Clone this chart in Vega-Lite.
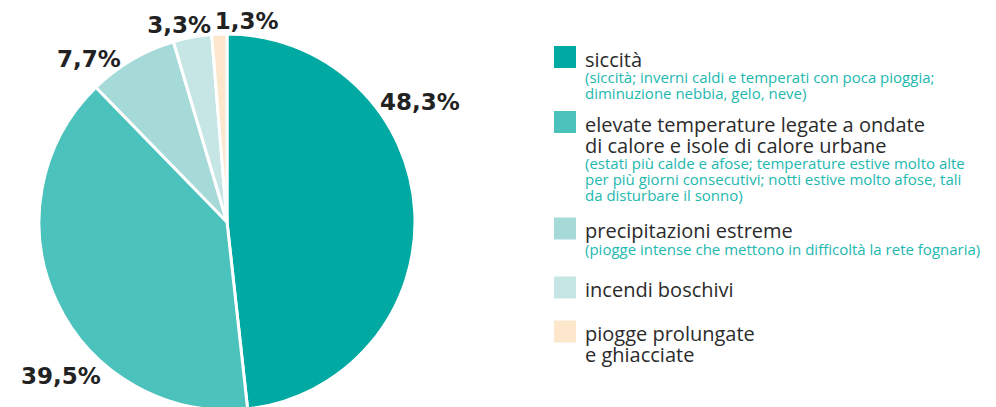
{
  "$schema": "https://vega.github.io/schema/vega-lite/v6.json",
  "padding": 0,
  "spacing": 0,
  "bounds": "flush",
  "background": "white",
  "config": {"view": {"stroke": null}, "concat": {"spacing": 0}},
  "datasets": {
    "slices": [
      {"cat": "siccità", "ord": 1, "value": 48.3, "label": "48,3%"},
      {"cat": "elevate temperature", "ord": 2, "value": 39.5, "label": "39,5%"},
      {"cat": "precipitazioni estreme", "ord": 3, "value": 7.7, "label": "7,7%"},
      {"cat": "incendi boschivi", "ord": 4, "value": 3.3, "label": "3,3%"},
      {"cat": "piogge prolungate", "ord": 5, "value": 1.3, "label": "1,3%"}
    ],
    "legend": [
      {"cat": "siccità", "ord": 1, "title": "siccità", "sub": "(siccità; inverni caldi e temperati con poca pioggia;\ndiminuzione nebbia, gelo, neve)"},
      {"cat": "elevate temperature", "ord": 2, "title": "elevate temperature legate a ondate\ndi calore e isole di calore urbane", "sub": "(estati più calde e afose; temperature estive molto alte\nper più giorni consecutivi; notti estive molto afose, tali\nda disturbare il sonno)"},
      {"cat": "precipitazioni estreme", "ord": 3, "title": "precipitazioni estreme", "sub": "(piogge intense che mettono in difficoltà la rete fognaria)"},
      {"cat": "incendi boschivi", "ord": 4, "title": "incendi boschivi", "sub": ""},
      {"cat": "piogge prolungate", "ord": 5, "title": "piogge prolungate\ne ghiacciate", "sub": ""}
    ]
  },
  "hconcat": [
    {
      "width": 454,
      "height": 444,
      "data": {"name": "slices"},
      "transform": [
        {"stack": "value", "groupby": [], "sort": [{"field": "ord", "order": "ascending"}], "as": ["v0", "v1"]}
      ],
      "layer": [
        {
          "mark": {"type": "arc", "outerRadius": 188, "stroke": "white", "strokeWidth": 3},
          "encoding": {
            "theta": {"field": "v0", "type": "quantitative", "stack": null, "scale": {"domain": [0, 100.1], "zero": true, "nice": false}},
            "theta2": {"field": "v1"},
            "color": {
              "field": "cat", "type": "nominal", "legend": null,
              "scale": {
                "domain": ["siccità", "elevate temperature", "precipitazioni estreme", "incendi boschivi", "piogge prolungate"],
                "range": ["#00A9A1", "#4BC2BC", "#A6DAD8", "#C6E6E5", "#FDE7CC"]
              }
            }
          }
        },
        {
          "transform": [{"filter": "datum.ord === 1"}],
          "mark": {"type": "text", "radius": 200, "dx": 193, "dy": 81, "font": "DejaVu Sans", "fontWeight": "bold", "fontSize": 23, "color": "#222222", "align": "center", "baseline": "middle"},
          "encoding": {"theta": {"field": "v0", "type": "quantitative", "stack": null}, "text": {"field": "label", "type": "nominal"}}
        },
        {
          "transform": [{"filter": "datum.ord === 2"}],
          "mark": {"type": "text", "radius": 200, "dx": -188, "dy": -44, "font": "DejaVu Sans", "fontWeight": "bold", "fontSize": 23, "color": "#222222", "align": "center", "baseline": "middle"},
          "encoding": {"theta": {"field": "v0", "type": "quantitative", "stack": null}, "text": {"field": "label", "type": "nominal"}}
        },
        {
          "transform": [{"filter": "datum.ord === 3"}],
          "mark": {"type": "text", "radius": 200, "dx": 1.5, "dy": -18.5, "font": "DejaVu Sans", "fontWeight": "bold", "fontSize": 23, "color": "#222222", "align": "center", "baseline": "middle"},
          "encoding": {"theta": {"field": "v0", "type": "quantitative", "stack": null}, "text": {"field": "label", "type": "nominal"}}
        },
        {
          "transform": [{"filter": "datum.ord === 4"}],
          "mark": {"type": "text", "radius": 200, "dx": 9, "dy": -4.5, "font": "DejaVu Sans", "fontWeight": "bold", "fontSize": 23, "color": "#222222", "align": "center", "baseline": "middle"},
          "encoding": {"theta": {"field": "v0", "type": "quantitative", "stack": null}, "text": {"field": "label", "type": "nominal"}}
        },
        {
          "transform": [{"filter": "datum.ord === 5"}],
          "mark": {"type": "text", "radius": 200, "dx": 36, "dy": -0.7, "font": "DejaVu Sans", "fontWeight": "bold", "fontSize": 23, "color": "#222222", "align": "center", "baseline": "middle"},
          "encoding": {"theta": {"field": "v0", "type": "quantitative", "stack": null}, "text": {"field": "label", "type": "nominal"}}
        }
      ]
    },
    {
      "width": 542,
      "height": 407,
      "data": {"name": "legend"},
      "encoding": {
        "y": {
          "field": "ord", "type": "quantitative", "axis": null,
          "scale": {"domain": [1, 2, 3, 4, 5], "range": [57, 122, 228.5, 287.5, 331.5], "nice": false, "zero": false}
        }
      },
      "layer": [
        {
          "mark": {"type": "square", "size": 484, "opacity": 1, "filled": true},
          "encoding": {
            "x": {"value": 111},
            "color": {
              "field": "cat", "type": "nominal", "legend": null,
              "scale": {
                "domain": ["siccità", "elevate temperature", "precipitazioni estreme", "incendi boschivi", "piogge prolungate"],
                "range": ["#00A9A1", "#4BC2BC", "#A6DAD8", "#C6E6E5", "#FDE7CC"]
              }
            }
          }
        },
        {
          "mark": {"type": "text", "font": "Open Sans", "fontSize": 20, "color": "#2b2b2b", "align": "left", "baseline": "alphabetic", "dy": 9.5, "lineBreak": "\n", "lineHeight": 21},
          "encoding": {"x": {"value": 131}, "text": {"field": "title", "type": "nominal"}}
        },
        {
          "transform": [{"filter": "indexof(datum.title, '\\n') < 0"}],
          "mark": {"type": "text", "font": "Open Sans", "fontSize": 15, "color": "#22B8AF", "align": "left", "baseline": "alphabetic", "dy": 26, "lineBreak": "\n", "lineHeight": 16},
          "encoding": {"x": {"value": 131}, "text": {"field": "sub", "type": "nominal"}}
        },
        {
          "transform": [{"filter": "indexof(datum.title, '\\n') >= 0"}],
          "mark": {"type": "text", "font": "Open Sans", "fontSize": 15, "color": "#22B8AF", "align": "left", "baseline": "alphabetic", "dy": 47, "lineBreak": "\n", "lineHeight": 16},
          "encoding": {"x": {"value": 131}, "text": {"field": "sub", "type": "nominal"}}
        }
      ]
    }
  ]
}
